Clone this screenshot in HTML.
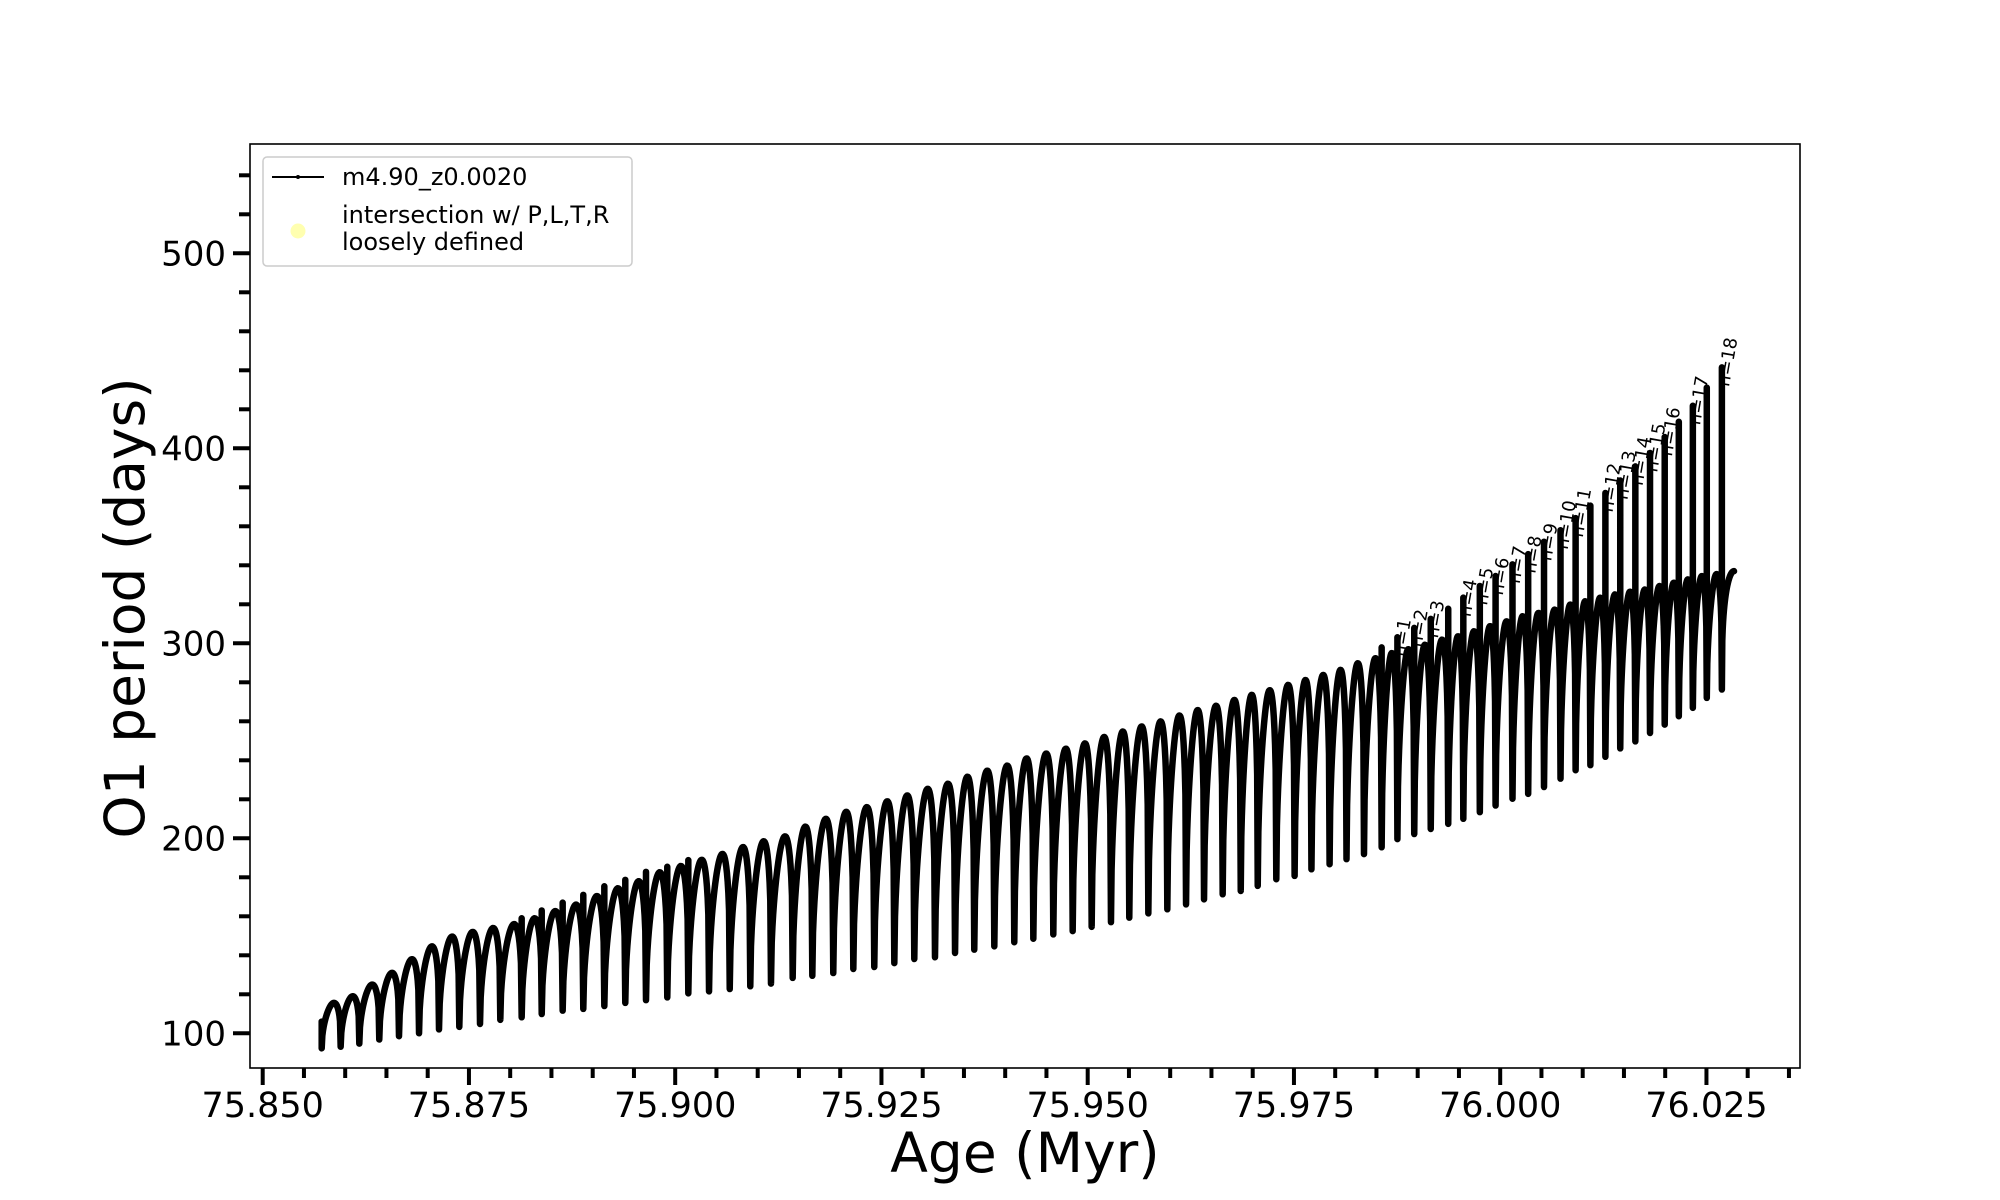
<!DOCTYPE html>
<html><head><meta charset="utf-8"><style>
html,body{margin:0;padding:0;background:#fff;}
svg{display:block;font-family:"DejaVu Sans","Liberation Sans",sans-serif;}
</style></head>
<body>
<svg id="chart" width="2000" height="1200" viewBox="0 0 2000 1200">
<rect x="0" y="0" width="2000" height="1200" fill="#fff"/>
<g id="plot"></g>
<rect x="250" y="144" width="1550" height="924" fill="none" stroke="#000" stroke-width="1.6"/>
<g id="xticks"></g>
<g id="yticks"></g>
<text x="1025" y="1172" font-size="55" text-anchor="middle">Age (Myr)</text>
<text transform="translate(144,608) rotate(-90)" font-size="55" text-anchor="middle">O1 period (days)</text>
<g>
<rect x="263" y="157" width="369" height="109" rx="4" fill="#fff" fill-opacity="0.85" stroke="#ccc" stroke-width="1.5"/>
<line x1="272" y1="177" x2="324" y2="177" stroke="#000" stroke-width="2"/>
<circle cx="298" cy="177" r="2" fill="#000"/>
<text x="342" y="185" font-size="24">m4.90_z0.0020</text>
<circle cx="298" cy="231" r="7.5" fill="#ffffb0"/>
<text x="342" y="223" font-size="24">intersection w/ P,L,T,R</text>
<text x="342" y="250" font-size="24">loosely defined</text>
</g>
</svg>
<script>
const tipAges = [75.85715,75.85945,75.86171,75.86413,75.86652,75.86895,75.87137,75.87383,75.87634,75.87880,75.88139,75.88382,75.88636,75.88886,75.89141,75.89395,75.89646,75.89904,75.90159,
75.90410,75.90661,75.90910,75.91161,
75.91424,75.91662,75.91916,75.92159,75.92413,75.92656,75.92898,75.93149,75.93392,75.93625,75.93868,75.94110,75.94341,75.94583,75.94818,75.95048,75.95282,75.95504,75.95735,75.95965,75.96192,75.96410,75.96636,75.96855,
75.97061,75.97286,75.97508,75.97712,75.97932,75.98137,75.98349,75.98563,75.98754,75.98958,75.99158,75.99370,75.99553,75.99753,75.99944,76.00149,76.00339,76.00531,76.00731,76.00914,76.01093,76.01275,76.01455,76.01638,76.01816,76.01994,76.02165,76.02335,76.02504,76.02687];
const minPeriods = [92.3,93.1,94.7,96.8,98.5,100,102,103.3,104.8,106.9,108.2,109.9,111.6,112.5,114,115.6,117,118.4,120.5,
121.5,122.7,124.1,125.5,
128.4,129.5,130.9,133,134,136,138.1,139,141.2,142.9,144.6,146.7,148.5,150.7,152.4,154.6,157,159.3,161.5,163.6,166.1,168.7,171.3,173,
175.6,179,180.7,184.1,186.7,189.3,191.9,195.4,199.6,202.2,204.8,207.4,210,213.4,216.8,220.3,222.8,226.3,230.6,234.9,237.5,241.8,246.1,249.7,254,258.3,262.6,266.9,272,276.3];
const arcTops = [115.6,119,125,131,138,144.6,149.6,152,154,156,159,162.7,166,170.4,174.4,178,182.6,185.8,189,
192,195.5,198.5,201,
206,210,213.6,216,219,222,225.4,228,231.6,234.7,237.3,241,243.5,246,248.7,252,254.8,257.4,260,263,265.8,268,271,273.6,
276,278.7,281.2,283.8,286.4,289.8,292.4,295,297,299.3,301.9,303.6,306.2,308.8,311.3,313.9,315.6,317.3,319.9,321.6,323.4,325.1,326.5,327.6,329.4,331.1,332.8,334.5,335.5,337];
const spikeTops = [0,0,0,0,0,0,0,0,0,0,159,163,167,171,175.4,178.7,182.8,185.4,188.8,
0,0,0,0,
0,0,0,0,0,0,0,0,0,0,0,0,0,0,0,0,0,0,0,0,0,0,0,0,
0,0,0,0,0,0,0,297.9,303.1,307.9,312.5,317.7,323.4,329.4,334.5,340.5,345.7,352.1,358,364.2,370.6,377.1,383.5,390.7,397.6,405.8,413.6,421.8,431.1,441.5];
const spikeLabels = ["","","","","","","","","","","","","","","","","","","",
"","","","",
"","","","","","","","","","","","","","","","","","","","","","","","",
"","","","","","","","","n=1","n=2","n=3","","n=4","n=5","n=6","n=7","n=8","n=9","n=10","n=11","","n=12","n=13","n=14","n=15","n=16","","n=17","","n=18"];
const startPeriod = [106];
const endAge = [76.02834];
const xTickLabels = ["75.850","75.875","75.900","75.925","75.950","75.975","76.000","76.025"];
const yTickLabels = ["100","200","300","400","500"];

const NS="http://www.w3.org/2000/svg";
function X(a){return 262.7+(a-75.85)*8250;}
function Y(v){return 1033.3-(v-100)*1.95;}
function mk(tag,attrs,parent){const e=document.createElementNS(NS,tag);for(const k in attrs)e.setAttribute(k,attrs[k]);parent.appendChild(e);return e;}

const plot=document.getElementById('plot');
let d="M"+X(tipAges[0]).toFixed(2)+","+Y(startPeriod[0]).toFixed(2);
const n=tipAges.length;
const P=1.6;
for(let i=0;i<n;i++){
  const xa=X(tipAges[i]);
  d+="L"+xa.toFixed(2)+","+Y(minPeriods[i]).toFixed(2);
  if(spikeTops[i]>0){
    d+="L"+xa.toFixed(2)+","+Y(spikeTops[i]).toFixed(2)+"L"+xa.toFixed(2)+","+Y(minPeriods[i]).toFixed(2);
  }
  const N=30;
  if(i<n-1){
    const xb=X(tipAges[i+1]);
    for(let k=1;k<=N;k++){
      const u=k/N;
      const base=minPeriods[i]+(minPeriods[i+1]-minPeriods[i])*u;
      const v=base+(arcTops[i]-base)*Math.pow(Math.max(0,Math.sin(Math.PI*Math.pow(u,P))),0.3);
      d+="L"+(xa+(xb-xa)*u).toFixed(2)+","+Y(v).toFixed(2);
    }
  } else {
    const xb=X(endAge[0]);
    for(let k=1;k<=N;k++){
      const u=k/N;
      const v=minPeriods[i]+(arcTops[i]-minPeriods[i])*Math.pow(Math.sin(Math.PI/2*u),0.3);
      d+="L"+(xa+(xb-xa)*u).toFixed(2)+","+Y(v).toFixed(2);
    }
  }
}
const line=mk('path',{d:d,fill:'none',stroke:'#000','stroke-width':6.5,'stroke-linejoin':'round','stroke-linecap':'round'},plot);



for(let i=0;i<n;i++){
  if(spikeLabels[i]){
    const t=mk('text',{transform:'translate('+(X(tipAges[i])+7).toFixed(2)+','+(Y(spikeTops[i])+20).toFixed(2)+') rotate(-80)','font-size':18,fill:'#000'},plot);
    t.textContent=spikeLabels[i];
    
    
  }
}

const xg=document.getElementById('xticks');
for(let k=0;k<=37;k++){
  const a=75.85+k*0.005;
  const x=X(a);
  if(x>1800)break;
  const major=(k%5===0);
  const tk=mk('line',{x1:x,y1:1068,x2:x,y2:major?1085:1078,stroke:'#000','stroke-width':4},xg);
  
  
  if(major&&xTickLabels[k/5]){
    const t=mk('text',{x:x,y:1117,'font-size':35,'text-anchor':'middle'},xg);
    t.textContent=xTickLabels[k/5];
    
    
  }
}
const yg=document.getElementById('yticks');
for(let v=100;v<=540;v+=20){
  const y=Y(v);
  const major=(v%100===0);
  const tk=mk('line',{x1:major?233:239,y1:y,x2:250,y2:y,stroke:'#000','stroke-width':4},yg);
  
  
  if(major){
    const t=mk('text',{x:226,y:y+12,'font-size':34,'text-anchor':'end'},yg);
    t.textContent=yTickLabels[(v-100)/100];
    
    
  }
}
</script>
</body></html>
